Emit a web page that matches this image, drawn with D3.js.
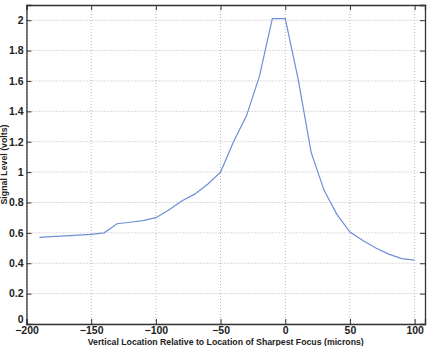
<!DOCTYPE html>
<html>
<head>
<meta charset="utf-8">
<script src="https://cdn.jsdelivr.net/npm/d3@7"></script>
<style>
  body { margin: 0; background: #fff; }
  text { font-family: Arial, "Liberation Sans", sans-serif; }
</style>
</head>
<body>
<svg id="chart" width="429" height="346"></svg>
<script>
// focus position (microns) and signal level (volts)
var positions = [-190, -180, -150, -140, -130, -120, -110, -100, -90, -80, -70, -60, -50, -40, -30, -20, -10, 0, 10, 20, 30, 40, 50, 60, 70, 80, 90, 100];
var signal = [0.57, 0.575, 0.59, 0.60, 0.66, 0.67, 0.68, 0.70, 0.75, 0.81, 0.855, 0.92, 1.0, 1.20, 1.37, 1.63, 2.01, 2.01, 1.61, 1.13, 0.88, 0.72, 0.605, 0.55, 0.50, 0.46, 0.43, 0.42];
var xTicks = [-200, -150, -100, -50, 0, 50, 100];
var yTicks = [0, 0.2, 0.4, 0.6, 0.8, 1, 1.2, 1.4, 1.6, 1.8, 2];

var svg = d3.select('#chart');
var margin = {left: 26.5, right: 4, top: 5, bottom: 22};
var W = 429, H = 346;
var x = d3.scaleLinear().domain([-200, 108]).range([margin.left, W - margin.right]);
var y = d3.scaleLinear().domain([0, 2.1]).range([H - margin.bottom, margin.top]);

// grid
var grid = svg.append('g');
grid.selectAll('.gx').data(xTicks).enter().append('line')
  .attr('x1', function(d){ return x(d); }).attr('x2', function(d){ return x(d); })
  .attr('y1', y(0)).attr('y2', y(2.1))
  .style('stroke', '#b8b8b8').style('stroke-dasharray', '1,2').style('stroke-width', 1);
grid.selectAll('.gy').data(yTicks).enter().append('line')
  .attr('x1', x(-200)).attr('x2', x(108))
  .attr('y1', function(d){ return y(d); }).attr('y2', function(d){ return y(d); })
  .style('stroke', '#b8b8b8').style('stroke-dasharray', '1,2').style('stroke-width', 1);

// axes, ticks pointing inward
var xAxis = svg.append('g').attr('transform', 'translate(0,' + y(0) + ')')
  .call(d3.axisBottom(x).tickValues(xTicks).tickSize(-5).tickPadding(3).tickFormat(d3.format('d')));
var yAxis = svg.append('g').attr('transform', 'translate(' + x(-200) + ',0)')
  .call(d3.axisLeft(y).tickValues(yTicks).tickSize(-5).tickPadding(3).tickFormat(function(d){ return d3.format('')(+d.toFixed(1)); }));
svg.append('g').attr('transform', 'translate(0,' + y(2.1) + ')')
  .call(d3.axisTop(x).tickValues(xTicks).tickSize(-5).tickFormat(''));
svg.append('g').attr('transform', 'translate(' + x(108) + ',0)')
  .call(d3.axisRight(y).tickValues(yTicks).tickSize(-5).tickFormat(''));

svg.selectAll('.domain').style('stroke', '#333').style('stroke-width', 1.3);
svg.selectAll('.tick line').style('stroke', '#333');
svg.selectAll('.tick text').style('font-size', '10.5px').style('font-weight', 'bold').style('fill', '#222');
// the 0 on the y axis sits a little above the corner, like the original
yAxis.selectAll('.tick text').filter(function(d){ return d === 0; }).attr('dy', '-0.15em');

// signal curve
var line = d3.line()
  .x(function(d, i){ return x(positions[i]); })
  .y(function(d){ return y(d); });
svg.append('path').datum(signal)
  .attr('d', line)
  .style('fill', 'none')
  .style('stroke', '#6f8fd6')
  .style('stroke-width', 1.2);

// labels
svg.append('text')
  .attr('x', (x(-200) + x(108)) / 2).attr('y', 344.5)
  .attr('text-anchor', 'middle')
  .attr('textLength', 276).attr('lengthAdjust', 'spacingAndGlyphs')
  .style('font-size', '9.5px').style('font-weight', 'bold').style('fill', '#222')
  .text('Vertical Location Relative to Location of Sharpest Focus (microns)');
svg.append('text')
  .attr('transform', 'translate(7,' + (y(0) + y(2.1)) / 2 + ') rotate(-90)')
  .attr('text-anchor', 'middle')
  .attr('textLength', 80).attr('lengthAdjust', 'spacingAndGlyphs')
  .style('font-size', '9px').style('font-weight', 'bold').style('fill', '#222')
  .text('Signal Level (volts)');
</script>
</body>
</html>
